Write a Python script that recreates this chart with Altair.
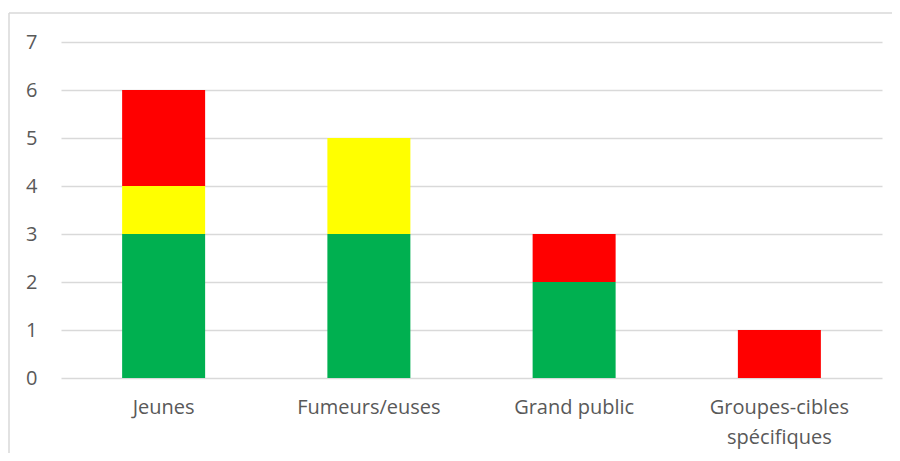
import altair as alt
import pandas as pd

categories = ["Jeunes", "Fumeurs/euses", "Grand public", "Groupes-cibles spécifiques"]
green_vals = [3, 3, 2, 0]
yellow_vals = [1, 2, 0, 0]
red_vals = [2, 0, 1, 1]
series = ["vert", "jaune", "rouge"]
colors = ["#00B050", "#FFFF00", "#FF0000"]

rows = []
for i, c in enumerate(categories):
    for k, (s, vals) in enumerate(zip(series, [green_vals, yellow_vals, red_vals])):
        rows.append({"cat": c, "serie": s, "val": vals[i], "ord": k})
df = pd.DataFrame(rows)

W, H = 821, 336
FONT = "Open Sans"
FS = 20

bars = alt.Chart(df).mark_bar(size=83).encode(
    x=alt.X("cat:N", sort=categories, title=None,
            scale=alt.Scale(paddingInner=0.6, paddingOuter=0.3),
            axis=alt.Axis(labelAngle=0, domain=False, ticks=False, labelPadding=19,
                          labelFontSize=FS, labelColor="#595959", labelFont=FONT,
                          labelLineHeight=30, labelBaseline="top",
                          labelExpr="indexof(datum.label, ' sp') > 0 ? split(datum.label, ' ') : datum.label")),
    y=alt.Y("val:Q", stack="zero", title=None,
            scale=alt.Scale(domain=[0, 7], nice=False),
            axis=alt.Axis(values=[0, 1, 2, 3, 4, 5, 6, 7], domain=False, ticks=False,
                          labelPadding=24, labelFontSize=FS, labelColor="#595959",
                          labelFont=FONT, gridColor="#d9d9d9", gridWidth=1.5)),
    color=alt.Color("serie:N", scale=alt.Scale(domain=series, range=colors), legend=None),
    order=alt.Order("ord:Q"),
)

base = alt.Chart(pd.DataFrame({"a": [0]}))
top_line = base.mark_rule(color="#d9d9d9", strokeWidth=1.5).encode(
    x=alt.value(-52), x2=alt.value(1000), y=alt.value(-29))
left_line = base.mark_rule(color="#d9d9d9", strokeWidth=1.5).encode(
    x=alt.value(-52), y=alt.value(-29), y2=alt.value(1000))

chart = alt.layer(top_line, left_line, bars).properties(
    width=W, height=H,
    autosize=alt.AutoSizeParams(type="none"),
    padding={"left": 53, "top": 34, "right": 10, "bottom": 75},
).configure_view(stroke=None)

chart.save("out.html", embed_options={"renderer": "svg", "actions": False})
